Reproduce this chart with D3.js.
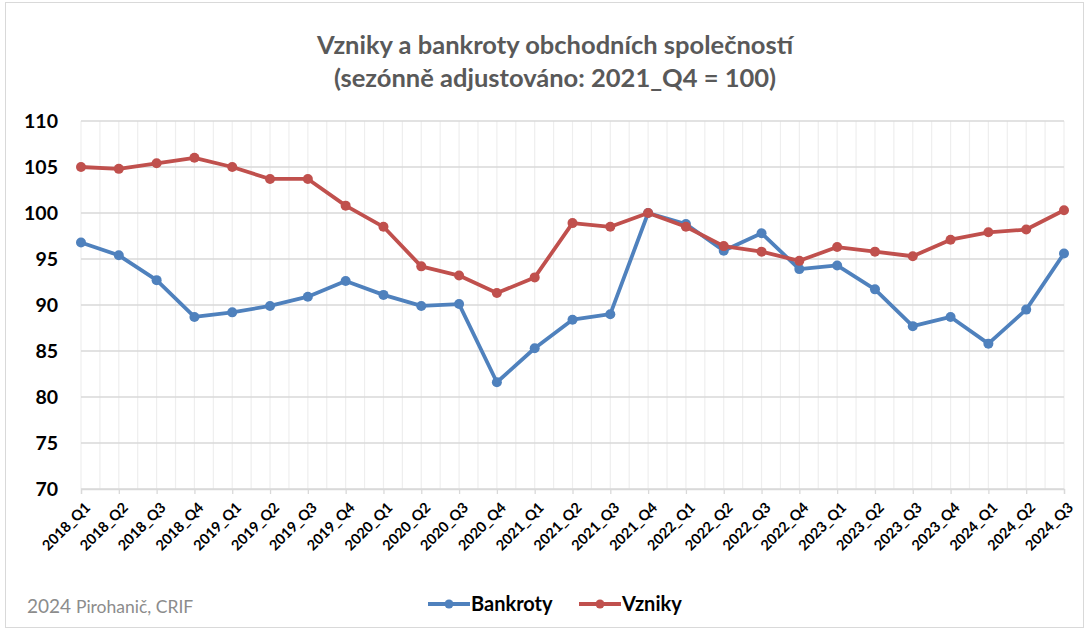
<!DOCTYPE html>
<html>
<head>
<meta charset="utf-8">
<script src="https://cdn.jsdelivr.net/npm/d3@7"></script>
<style>
  body { margin: 0; background: #fff; }
  svg { display: block; font-family: Lato, "Open Sans", sans-serif; }
</style>
</head>
<body>
<div id="chart"></div>
<script>
// data
var quarters = ["2018_Q1", "2018_Q2", "2018_Q3", "2018_Q4", "2019_Q1", "2019_Q2", "2019_Q3", "2019_Q4",
    "2020_Q1", "2020_Q2", "2020_Q3", "2020_Q4", "2021_Q1", "2021_Q2", "2021_Q3", "2021_Q4",
    "2022_Q1", "2022_Q2", "2022_Q3", "2022_Q4", "2023_Q1", "2023_Q2", "2023_Q3", "2023_Q4",
    "2024_Q1", "2024_Q2", "2024_Q3"];

var bankroty = [96.8, 95.4, 92.7, 88.7, 89.2, 89.9, 90.9, 92.6, 91.1, 89.9, 90.1, 81.6, 85.3, 88.4,
    89.0, 100.0, 98.8, 95.9, 97.8, 93.9, 94.3, 91.7, 87.7, 88.7, 85.8, 89.5, 95.6];

var vzniky = [105.0, 104.8, 105.4, 106.0, 105.0, 103.7, 103.7, 100.8, 98.5, 94.2, 93.2, 91.3, 93.0, 98.9,
    98.5, 100.0, 98.5, 96.4, 95.8, 94.8, 96.3, 95.8, 95.3, 97.1, 97.9, 98.2, 100.3];

var yTicks = [70, 75, 80, 85, 90, 95, 100, 105, 110];

var titleLines = ["Vzniky a bankroty obchodních společností", "(sezónně adjustováno: 2021_Q4 = 100)"];

var series = [
    { name: "Bankroty", values: bankroty, color: "#4f81bd" },
    { name: "Vzniky", values: vzniky, color: "#c0504d" }
];

var W = 1089, H = 631;
var margin = { t: 121, r: 25, b: 142, l: 81 };

var svg = d3.select('#chart')
    .append('svg')
    .attr('width', W)
    .attr('height', H);

// chart border
svg.append('rect')
    .attr('x', 5.5).attr('y', 2.5)
    .attr('width', W - 11).attr('height', H - 6)
    .attr('fill', '#fff')
    .attr('stroke', '#d9d9d9');

var x = d3.scalePoint()
    .domain(quarters)
    .range([margin.l, W - margin.r]);

var y = d3.scaleLinear()
    .domain([70, 110])
    .range([H - margin.b, margin.t]);

var step = x.step();

// vertical gridlines, on each category and half way between
var vLines = [];
quarters.forEach(function (q, i) {
    vLines.push(x(q));
    if (i < quarters.length - 1) vLines.push(x(q) + step / 2);
});

svg.append('g')
    .selectAll('line')
    .data(vLines)
    .enter()
    .append('line')
    .attr('x1', function (d) { return d; })
    .attr('x2', function (d) { return d; })
    .attr('y1', y(110))
    .attr('y2', y(70))
    .attr('stroke', '#eeeeee')
    .attr('stroke-width', 1.2);

// horizontal gridlines
svg.append('g')
    .selectAll('line')
    .data(yTicks)
    .enter()
    .append('line')
    .attr('x1', x.range()[0])
    .attr('x2', x.range()[1])
    .attr('y1', function (d) { return y(d); })
    .attr('y2', function (d) { return y(d); })
    .attr('stroke', '#d9d9d9')
    .attr('stroke-width', 1.3);

// y axis labels
var yAxis = d3.axisLeft(y)
    .tickValues(yTicks)
    .tickSize(0)
    .tickPadding(23);

var gy = svg.append('g')
    .attr('transform', 'translate(' + margin.l + ',0)')
    .call(yAxis);
gy.select('.domain').remove();
gy.selectAll('text')
    .attr('font-size', 19.5)
    .attr('font-weight', 'bold')
    .attr('fill', '#000')
    .style('font-family', 'Lato, sans-serif');

// x axis
var xAxis = d3.axisBottom(x)
    .tickSize(5)
    .tickPadding(0);

var gx = svg.append('g')
    .attr('transform', 'translate(0,' + y(70) + ')')
    .call(xAxis);
gx.select('.domain').attr('stroke', '#d9d9d9').attr('stroke-width', 1.3);
gx.selectAll('.tick line').attr('stroke', '#d9d9d9').attr('stroke-width', 1.3);
gx.selectAll('text')
    .attr('font-size', 14.5)
    .attr('font-weight', 'bold')
    .attr('fill', '#000')
    .style('font-family', 'Lato, sans-serif')
    .attr('text-anchor', 'end')
    .attr('y', 0)
    .attr('dy', '0.35em')
    .attr('transform', 'translate(6,16) rotate(-45)');

// lines
var line = d3.line()
    .x(function (d, i) { return x(quarters[i]); })
    .y(function (d) { return y(d); });

var sg = svg.selectAll('.series')
    .data(series)
    .enter()
    .append('g')
    .attr('class', 'series');

sg.append('path')
    .attr('d', function (d) { return line(d.values); })
    .attr('fill', 'none')
    .attr('stroke', function (d) { return d.color; })
    .attr('stroke-width', 3.8)
    .attr('stroke-linejoin', 'round');

sg.selectAll('circle')
    .data(function (d) {
        return d.values.map(function (v, i) { return { v: v, i: i, color: d.color }; });
    })
    .enter()
    .append('circle')
    .attr('cx', function (d) { return x(quarters[d.i]); })
    .attr('cy', function (d) { return y(d.v); })
    .attr('r', 5)
    .attr('fill', function (d) { return d.color; });

// title
svg.append('text')
    .attr('text-anchor', 'middle')
    .attr('font-size', 25.5)
    .attr('font-weight', 'bold')
    .attr('fill', '#595959')
    .selectAll('tspan')
    .data(titleLines)
    .enter()
    .append('tspan')
    .attr('x', 555)
    .attr('y', function (d, i) { return 54 + i * 33; })
    .text(function (d) { return d; });

// legend
var legendX = [428, 579];
var lg = svg.selectAll('.legend')
    .data(series)
    .enter()
    .append('g')
    .attr('class', 'legend')
    .attr('transform', function (d, i) { return 'translate(' + legendX[i] + ',604)'; });

lg.append('line')
    .attr('x1', 0).attr('x2', 42)
    .attr('stroke', function (d) { return d.color; })
    .attr('stroke-width', 3.8);
lg.append('circle')
    .attr('cx', 21).attr('r', 4.5)
    .attr('fill', function (d) { return d.color; });
lg.append('text')
    .attr('x', 43)
    .attr('dy', '0.35em')
    .attr('font-size', 20)
    .attr('font-weight', 'bold')
    .attr('fill', '#000')
    .text(function (d) { return d.name; });

// source note
var note = svg.append('text')
    .attr('x', 27)
    .attr('y', 613)
    .attr('fill', '#8c8c8c');
note.append('tspan').attr('font-size', 19).text('2024 ');
note.append('tspan').attr('font-size', 17.5).text('Pirohanič, CRIF');
</script>
</body>
</html>
